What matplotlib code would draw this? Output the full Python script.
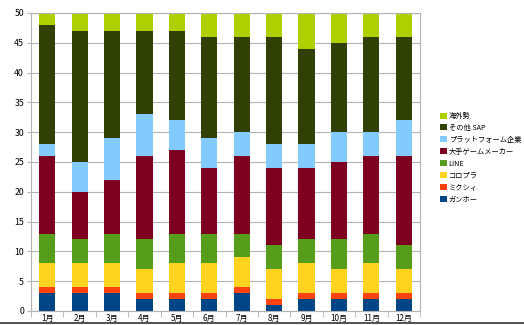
import numpy as np
import matplotlib
matplotlib.use("Agg")
import matplotlib.pyplot as plt
from matplotlib.lines import Line2D
from matplotlib.patches import Patch

plt.rcParams['font.family'] = ['Noto Sans CJK JP', 'DejaVu Sans']

months = ["1月", "2月", "3月", "4月", "5月", "6月", "7月", "8月", "9月", "10月", "11月", "12月"]

# bottom to top
gungho   = [3, 3, 3, 2, 2, 2, 3, 1, 2, 2, 2, 2]
mixi     = [1, 1, 1, 1, 1, 1, 1, 1, 1, 1, 1, 1]
colopl   = [4, 4, 4, 4, 5, 5, 5, 5, 5, 4, 5, 4]
line     = [5, 4, 5, 5, 5, 5, 4, 4, 4, 5, 5, 4]
big_game = [13, 8, 9, 14, 14, 11, 13, 13, 12, 13, 13, 15]
platform = [2, 5, 7, 7, 5, 5, 4, 4, 4, 5, 4, 6]
other    = [20, 22, 18, 14, 15, 17, 16, 18, 16, 15, 16, 14]
overseas = [2, 3, 3, 3, 3, 4, 4, 4, 6, 5, 4, 4]

series = [
    ("ガンホー", gungho, "#004586"),
    ("ミクシィ", mixi, "#ff420e"),
    ("コロプラ", colopl, "#ffd320"),
    ("LINE", line, "#579d1c"),
    ("大手ゲームメーカー", big_game, "#7e0021"),
    ("プラットフォーム企業", platform, "#83caff"),
    ("その他 SAP", other, "#314004"),
    ("海外勢", overseas, "#aecf00"),
]

fig = plt.figure(figsize=(5.24, 3.25), dpi=100)
ax = fig.add_axes([31/524, 1 - 311/325, (420-31)/524, (311-13)/325])

x = np.arange(len(months))
bottom = np.zeros(len(months))
for name, vals, col in series:
    ax.bar(x, vals, 0.5, bottom=bottom, color=col, label=name, zorder=2)
    bottom += np.array(vals)

ax.set_xlim(-0.5, len(months) - 0.5)
ax.set_ylim(0, 50)
ax.set_yticks(np.arange(0, 51, 5))
ax.yaxis.grid(True, color="#b3b3b3", linewidth=0.8, zorder=0)
ax.set_axisbelow(True)
ax.set_xticks(x)
ax.set_xticklabels(months, fontsize=5.8)
ax.tick_params(axis='x', length=0, pad=2)
ax.set_xticks(np.arange(-0.5, len(months)), minor=True)
ax.tick_params(axis='x', which='minor', length=4, color="#b3b3b3", direction='out')
ax.tick_params(axis='y', labelsize=6.3, length=3, color="#b3b3b3", pad=2)
for s in ax.spines.values():
    s.set_color("#b3b3b3")
    s.set_linewidth(0.8)

handles = [Patch(facecolor=c, edgecolor='none') for _, _, c in series][::-1]
labels = [n for n, _, _ in series][::-1]
fig.legend(handles, labels, loc='upper left', bbox_to_anchor=(440/524, 1 - 112/325),
           frameon=False, fontsize=5.2, handlelength=0.9, handleheight=0.9,
           handletextpad=0.3, labelspacing=0.55, borderaxespad=0, borderpad=0)

fig.add_artist(Line2D([0, 1], [1 - 323/325, 1 - 323/325], color="#333333", linewidth=1.2))

fig.savefig("out.png", dpi=100)
